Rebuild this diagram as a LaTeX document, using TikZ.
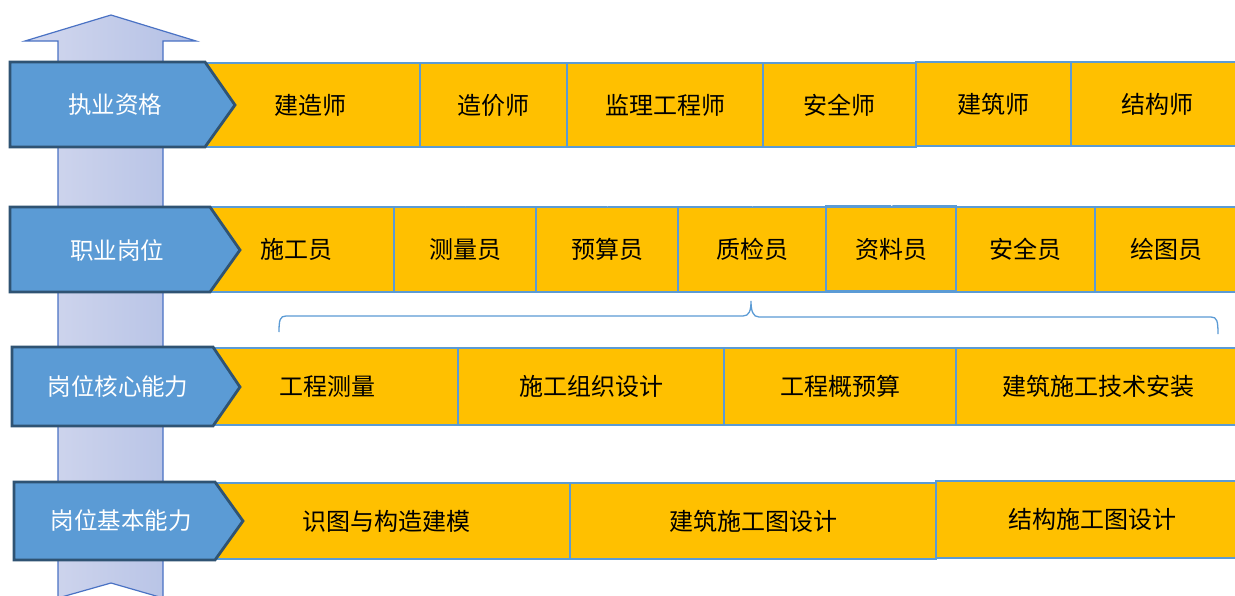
\documentclass[tikz,border=0pt]{standalone}
\usepackage{fontspec}
\setmainfont{Noto Sans CJK SC}
\usetikzlibrary{arrows.meta,calc}
\definecolor{chevblue}{HTML}{5B9BD5}
\definecolor{chevedge}{HTML}{2F5373}
\definecolor{boxyellow}{HTML}{FFC000}
\definecolor{boxedge}{HTML}{5B9BD5}
\definecolor{arrL}{HTML}{D3D8EE}
\definecolor{arrR}{HTML}{B3C0E5}
\definecolor{arredge}{HTML}{4A72C4}
\begin{document}
\begin{tikzpicture}[x=1pt,y=-1pt,
 ybox/.style={draw=boxedge, line width=2.5pt, fill=boxyellow, inner sep=0pt, font=\fontsize{24}{28}\selectfont, text=black},
 chev/.style={draw=chevedge, line width=2.8pt, fill=chevblue, line join=miter},
 chevtext/.style={text=white, font=\fontsize{23.5}{28}\selectfont, inner sep=0pt},
 warrow/.style={draw=white, line width=1.5pt, -{Triangle[length=9pt,width=9pt]}},
 bracel/.style={draw=boxedge, line width=1.3pt}]
\useasboundingbox (0,0) rectangle (1235,595);
\fill[white] (0,0) rectangle (1235,595);
% big vertical arrow
\draw[draw=arredge, line width=1.2pt, left color=arrL, right color=arrR]
  (58,41) -- (25,41) -- (111,15) -- (196,41) -- (163,41) -- (163,598) -- (111,583) -- (58,598) -- cycle;
% row 1
\node[ybox, minimum width=220, minimum height=84] (r1a) at (310,105) {建造师};
\node[ybox, minimum width=147, minimum height=84] (r1b) at (493.5,105) {造价师};
\node[ybox, minimum width=196, minimum height=84] (r1c) at (665,105) {监理工程师};
\node[ybox, minimum width=153, minimum height=84] (r1d) at (839.5,105) {安全师};
\node[ybox, minimum width=155, minimum height=84] (r1e) at (993.5,104) {建筑师};
\node[ybox, minimum width=172, minimum height=84] (r1f) at (1157,104) {结构师};
% row 2
\node[ybox, minimum width=196, minimum height=85] (r2a) at (296,249.5) {施工员};
\node[ybox, minimum width=142, minimum height=85] (r2b) at (465,249.5) {测量员};
\node[ybox, minimum width=142, minimum height=85] (r2c) at (607,249.5) {预算员};
\node[ybox, minimum width=148, minimum height=85] (r2d) at (752,249.5) {质检员};
\node[ybox, minimum width=130, minimum height=85] (r2e) at (891,249) {资料员};
\node[ybox, minimum width=139, minimum height=85] (r2f) at (1025.5,249.5) {安全员};
\node[ybox, minimum width=142, minimum height=85] (r2g) at (1166,249.5) {绘图员};
% row 3
\node[ybox, minimum width=262, minimum height=77] (r3a) at (327,386.5) {工程测量};
\node[ybox, minimum width=266, minimum height=77] (r3b) at (591,386.5) {施工组织设计};
\node[ybox, minimum width=232, minimum height=77] (r3c) at (840,386.5) {工程概预算};
\node[ybox, minimum width=284, minimum height=77] (r3d) at (1098,386.5) {建筑施工技术安装};
% row 4
\node[ybox, minimum width=368, minimum height=76] (r4a) at (386,521) {识图与构造建模};
\node[ybox, minimum width=366, minimum height=76] (r4b) at (753,521) {建筑施工图设计};
\node[ybox, minimum width=312, minimum height=77] (r4c) at (1092,519.5) {结构施工图设计};
% chevrons
\draw[chev] (10,62) -- (205,62) -- (235,105) -- (205,147) -- (10,147) -- cycle;
\node[chevtext] (c1) at (115,105) {执业资格};
\draw[chev] (10,207) -- (210,207) -- (240,250) -- (210,292) -- (10,292) -- cycle;
\node[chevtext] (c2) at (117,250) {职业岗位};
\draw[chev] (12,347) -- (213,347) -- (240,387) -- (213,426) -- (12,426) -- cycle;
\node[chevtext] (c3) at (118,387) {岗位核心能力};
\draw[chev] (14,482) -- (215,482) -- (243,521) -- (215,560) -- (14,560) -- cycle;
\node[chevtext] (c4) at (121,521) {岗位基本能力};
% white connectors
\draw[warrow] (r2a.north) -- (r1a.south);
\draw[warrow] (r2b.north) -- (r1b.south);
\draw[warrow] (r2c.north) -- (r1c.south);
\draw[warrow] (r2d.north) -- (r1d.south);
\draw[warrow] (r2e.north) -- (r1e.south);
\draw[warrow] (r2f.north) -- (r1e.south);
\draw[warrow] (r2g.north) -- (r1f.south);
% brace
\coordinate (bl) at (279,332);
\coordinate (bm) at (751,301);
\coordinate (br) at (1218,334);
\draw[bracel] (bl) .. controls (279,320) and (280,316) .. (286,316) -- (743,316)
  .. controls (749,316) and (751,311) .. (bm)
  .. controls (751,311) and (753,317) .. (759,317) -- (1211,317)
  .. controls (1217,317) and (1218,321) .. (br);
\end{tikzpicture}
\end{document}
